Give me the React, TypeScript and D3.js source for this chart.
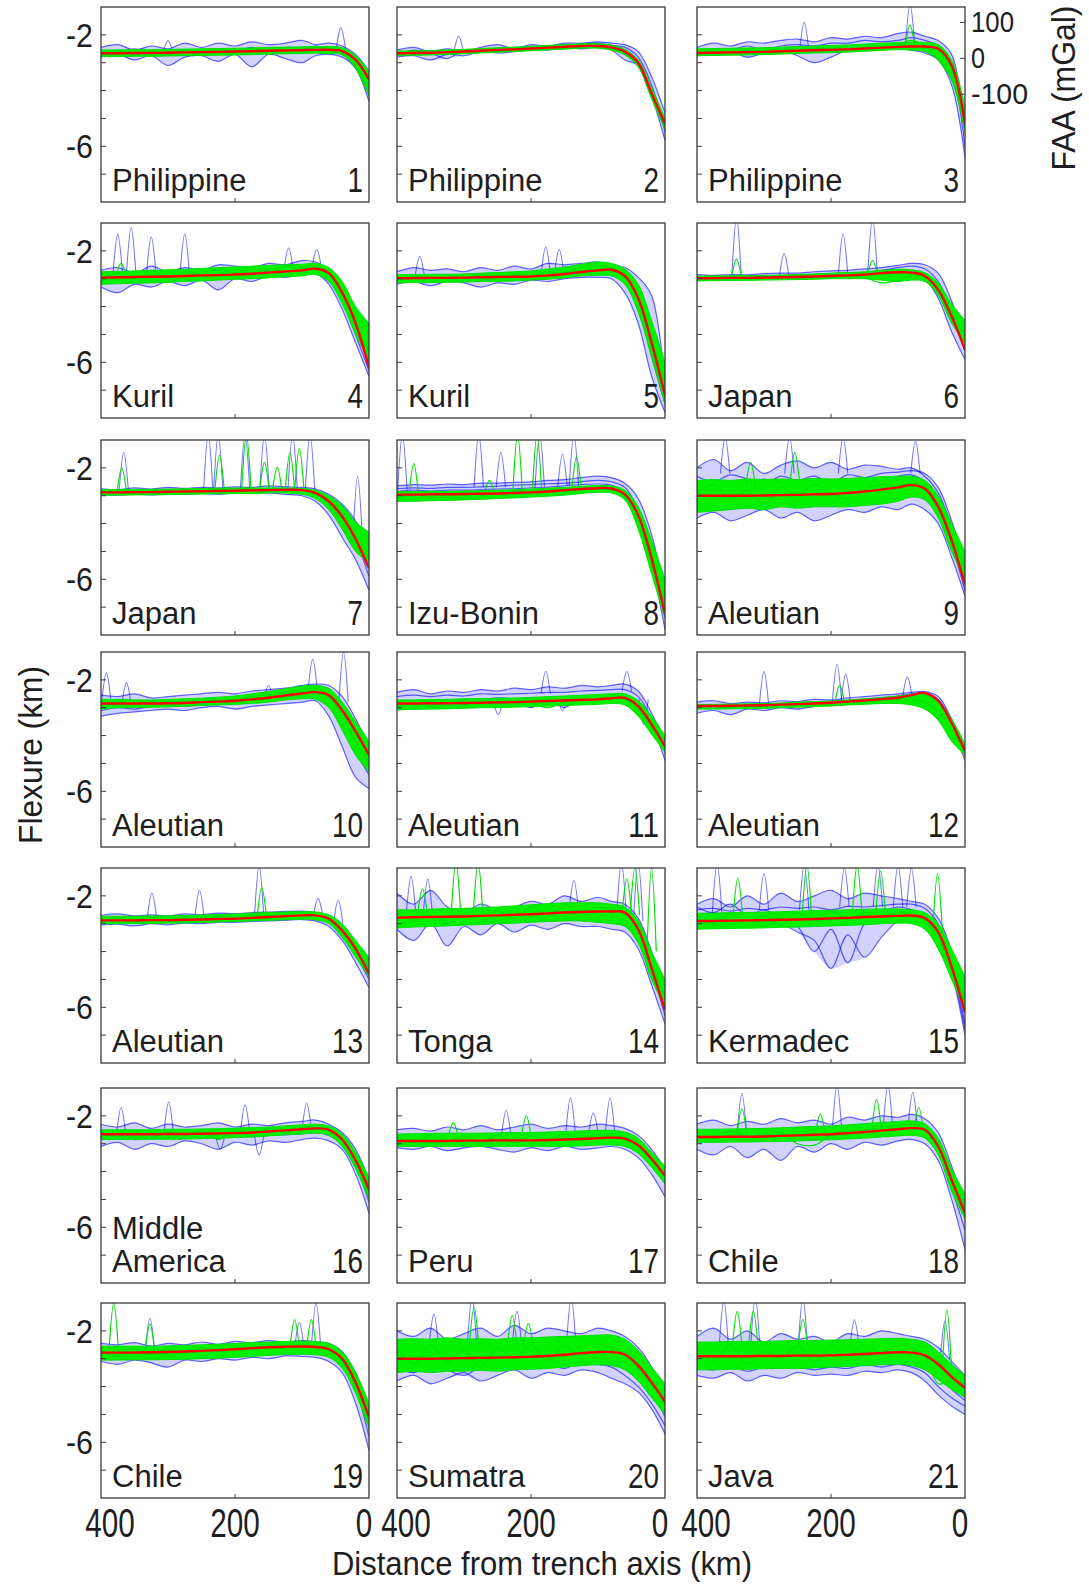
import React from "react";
import * as d3 from "d3";

// Distance from trench axis (km) at which every profile value is read
const DIST = [400, 375, 350, 325, 300, 275, 250, 225, 200, 175, 150, 125, 100, 80, 60, 40, 20, 0];

const PANEL_NAMES = [
  ["Philippine"], ["Philippine"], ["Philippine"], ["Kuril"], ["Kuril"], ["Japan"], ["Japan"],
  ["Izu-Bonin"], ["Aleutian"], ["Aleutian"], ["Aleutian"], ["Aleutian"], ["Aleutian"], ["Tonga"],
  ["Kermadec"], ["Middle", "America"], ["Peru"], ["Chile"], ["Chile"], ["Sumatra"], ["Java"],
];
const PANEL_NUMBERS = ["1","2","3","4","5","6","7","8","9","10","11","12","13","14","15","16","17","18","19","20","21"];

// Red: best-fit model flexure (km)
const RED = [
  [-2.66,-2.66,-2.65,-2.65,-2.64,-2.63,-2.62,-2.61,-2.6,-2.59,-2.57,-2.56,-2.55,-2.54,-2.54,-2.58,-2.9,-3.6],
  [-2.66,-2.65,-2.64,-2.62,-2.6,-2.57,-2.54,-2.52,-2.49,-2.46,-2.43,-2.4,-2.4,-2.45,-2.6,-3.0,-4.1,-5.2],
  [-2.65,-2.64,-2.63,-2.62,-2.61,-2.59,-2.57,-2.55,-2.54,-2.52,-2.49,-2.46,-2.43,-2.42,-2.42,-2.5,-3.1,-5.2],
  [-2.96,-2.95,-2.94,-2.93,-2.92,-2.9,-2.88,-2.87,-2.85,-2.82,-2.78,-2.74,-2.7,-2.64,-2.8,-3.5,-4.6,-6.2],
  [-2.98,-2.98,-2.97,-2.97,-2.96,-2.95,-2.94,-2.93,-2.92,-2.88,-2.83,-2.76,-2.7,-2.68,-2.9,-3.7,-5.3,-7.2],
  [-2.98,-2.98,-2.97,-2.97,-2.96,-2.95,-2.94,-2.92,-2.9,-2.88,-2.85,-2.8,-2.77,-2.78,-2.9,-3.4,-4.35,-5.55],
  [-2.88,-2.88,-2.87,-2.87,-2.86,-2.85,-2.84,-2.83,-2.82,-2.81,-2.8,-2.79,-2.8,-2.9,-3.2,-3.75,-4.55,-5.6],
  [-2.96,-2.96,-2.95,-2.95,-2.94,-2.93,-2.92,-2.9,-2.88,-2.85,-2.8,-2.76,-2.73,-2.74,-2.95,-3.7,-5.25,-7.25],
  [-3.0,-3.0,-3.0,-3.0,-2.99,-2.98,-2.97,-2.95,-2.94,-2.9,-2.85,-2.78,-2.7,-2.62,-2.75,-3.4,-4.6,-6.2],
  [-2.85,-2.85,-2.85,-2.85,-2.84,-2.83,-2.8,-2.78,-2.75,-2.7,-2.64,-2.56,-2.49,-2.44,-2.55,-3.1,-3.85,-4.7],
  [-2.85,-2.85,-2.84,-2.84,-2.83,-2.82,-2.81,-2.8,-2.78,-2.76,-2.74,-2.72,-2.7,-2.66,-2.65,-2.95,-3.6,-4.4],
  [-2.94,-2.94,-2.93,-2.92,-2.91,-2.89,-2.87,-2.85,-2.82,-2.78,-2.74,-2.69,-2.64,-2.55,-2.47,-2.75,-3.55,-4.55],
  [-2.88,-2.88,-2.88,-2.87,-2.87,-2.86,-2.85,-2.83,-2.82,-2.79,-2.76,-2.73,-2.7,-2.7,-2.82,-3.25,-3.9,-4.8],
  [-2.78,-2.77,-2.76,-2.75,-2.74,-2.72,-2.7,-2.68,-2.66,-2.63,-2.6,-2.58,-2.56,-2.56,-2.6,-3.2,-4.6,-6.1],
  [-2.9,-2.9,-2.89,-2.88,-2.87,-2.86,-2.85,-2.83,-2.81,-2.79,-2.76,-2.74,-2.72,-2.71,-2.8,-3.3,-4.55,-6.2],
  [-2.66,-2.66,-2.66,-2.66,-2.65,-2.65,-2.64,-2.63,-2.62,-2.6,-2.56,-2.52,-2.48,-2.45,-2.5,-2.85,-3.6,-4.65],
  [-2.9,-2.9,-2.9,-2.9,-2.89,-2.89,-2.88,-2.88,-2.88,-2.87,-2.85,-2.83,-2.8,-2.78,-2.82,-3.05,-3.55,-4.15],
  [-2.76,-2.76,-2.75,-2.75,-2.74,-2.72,-2.7,-2.68,-2.66,-2.62,-2.58,-2.53,-2.48,-2.44,-2.5,-3.1,-4.3,-5.5],
  [-2.78,-2.78,-2.78,-2.77,-2.76,-2.74,-2.72,-2.69,-2.66,-2.62,-2.59,-2.57,-2.56,-2.58,-2.66,-3.0,-3.85,-5.1],
  [-3.0,-3.0,-3.0,-2.99,-2.98,-2.97,-2.96,-2.95,-2.93,-2.9,-2.86,-2.8,-2.76,-2.76,-2.85,-3.25,-3.85,-4.55],
  [-2.91,-2.91,-2.91,-2.91,-2.9,-2.9,-2.89,-2.89,-2.88,-2.86,-2.83,-2.8,-2.77,-2.78,-2.88,-3.2,-3.65,-4.05],
];

// Green: upper and lower edge of the dense bundle of predicted profiles (km)
const GREEN_HI = [
  [-2.54,-2.54,-2.53,-2.53,-2.52,-2.51,-2.5,-2.49,-2.48,-2.47,-2.45,-2.44,-2.43,-2.42,-2.42,-2.46,-2.75,-3.3],
  [-2.58,-2.57,-2.56,-2.54,-2.52,-2.49,-2.46,-2.44,-2.41,-2.38,-2.35,-2.32,-2.32,-2.37,-2.52,-2.9,-3.9,-5.0],
  [-2.5,-2.49,-2.48,-2.47,-2.46,-2.44,-2.42,-2.4,-2.38,-2.36,-2.33,-2.3,-2.27,-2.26,-2.27,-2.35,-2.9,-4.6],
  [-2.75,-2.74,-2.72,-2.7,-2.68,-2.66,-2.63,-2.6,-2.58,-2.55,-2.52,-2.5,-2.48,-2.45,-2.6,-3.1,-4.0,-4.6],
  [-2.85,-2.85,-2.84,-2.84,-2.83,-2.8,-2.78,-2.75,-2.72,-2.65,-2.58,-2.48,-2.4,-2.45,-2.65,-3.2,-4.5,-6.0],
  [-2.9,-2.9,-2.89,-2.89,-2.88,-2.87,-2.85,-2.83,-2.8,-2.78,-2.75,-2.7,-2.66,-2.68,-2.78,-3.15,-3.9,-4.5],
  [-2.78,-2.78,-2.77,-2.77,-2.76,-2.75,-2.74,-2.73,-2.72,-2.72,-2.72,-2.72,-2.74,-2.8,-3.0,-3.35,-3.95,-4.3],
  [-2.85,-2.85,-2.84,-2.84,-2.83,-2.82,-2.8,-2.78,-2.76,-2.73,-2.7,-2.66,-2.63,-2.65,-2.8,-3.4,-4.6,-6.0],
  [-2.45,-2.42,-2.45,-2.4,-2.42,-2.4,-2.42,-2.38,-2.4,-2.38,-2.35,-2.32,-2.3,-2.3,-2.45,-3.0,-4.0,-5.0],
  [-2.7,-2.7,-2.72,-2.72,-2.7,-2.68,-2.66,-2.62,-2.58,-2.5,-2.42,-2.32,-2.22,-2.2,-2.3,-2.8,-3.5,-4.2],
  [-2.72,-2.72,-2.7,-2.7,-2.68,-2.67,-2.66,-2.65,-2.63,-2.6,-2.58,-2.55,-2.52,-2.5,-2.5,-2.75,-3.3,-4.0],
  [-2.88,-2.88,-2.87,-2.86,-2.85,-2.83,-2.8,-2.78,-2.76,-2.72,-2.68,-2.63,-2.58,-2.52,-2.5,-2.75,-3.4,-4.3],
  [-2.73,-2.73,-2.73,-2.72,-2.72,-2.7,-2.69,-2.67,-2.65,-2.62,-2.6,-2.58,-2.57,-2.58,-2.68,-3.0,-3.6,-4.2],
  [-2.5,-2.5,-2.48,-2.45,-2.45,-2.42,-2.4,-2.36,-2.32,-2.28,-2.25,-2.25,-2.25,-2.3,-2.4,-2.9,-4.0,-5.0],
  [-2.62,-2.62,-2.6,-2.6,-2.58,-2.57,-2.55,-2.53,-2.52,-2.5,-2.48,-2.47,-2.47,-2.5,-2.6,-3.0,-3.9,-4.9],
  [-2.5,-2.5,-2.5,-2.5,-2.48,-2.48,-2.47,-2.46,-2.44,-2.42,-2.4,-2.36,-2.32,-2.3,-2.36,-2.65,-3.3,-4.2],
  [-2.65,-2.64,-2.63,-2.62,-2.62,-2.62,-2.61,-2.6,-2.6,-2.58,-2.56,-2.54,-2.52,-2.52,-2.58,-2.8,-3.3,-3.8],
  [-2.48,-2.48,-2.47,-2.46,-2.45,-2.43,-2.4,-2.38,-2.36,-2.32,-2.28,-2.24,-2.2,-2.18,-2.28,-2.8,-3.9,-4.8],
  [-2.55,-2.55,-2.55,-2.55,-2.54,-2.52,-2.5,-2.48,-2.45,-2.42,-2.4,-2.38,-2.37,-2.38,-2.45,-2.75,-3.5,-4.6],
  [-2.3,-2.28,-2.3,-2.25,-2.3,-2.28,-2.3,-2.25,-2.25,-2.22,-2.2,-2.18,-2.15,-2.15,-2.3,-2.7,-3.3,-3.9],
  [-2.4,-2.4,-2.38,-2.38,-2.38,-2.36,-2.35,-2.35,-2.33,-2.32,-2.3,-2.28,-2.27,-2.3,-2.4,-2.75,-3.2,-3.6],
];
const GREEN_LO = [
  [-2.78,-2.78,-2.77,-2.77,-2.76,-2.75,-2.74,-2.73,-2.72,-2.71,-2.69,-2.68,-2.67,-2.66,-2.67,-2.72,-3.2,-4.2],
  [-2.74,-2.73,-2.72,-2.7,-2.68,-2.65,-2.62,-2.6,-2.57,-2.54,-2.51,-2.48,-2.48,-2.55,-2.72,-3.15,-4.3,-5.4],
  [-2.75,-2.74,-2.73,-2.72,-2.71,-2.69,-2.67,-2.65,-2.64,-2.62,-2.59,-2.56,-2.53,-2.55,-2.6,-2.9,-3.6,-5.5],
  [-3.2,-3.18,-3.16,-3.15,-3.13,-3.1,-3.08,-3.05,-3.02,-3.0,-2.97,-2.93,-2.9,-2.85,-3.1,-3.9,-5.0,-5.9],
  [-3.15,-3.14,-3.14,-3.13,-3.12,-3.1,-3.1,-3.08,-3.05,-3.02,-2.97,-2.9,-2.88,-2.9,-3.2,-4.2,-5.8,-7.5],
  [-3.08,-3.07,-3.06,-3.06,-3.05,-3.04,-3.03,-3.02,-3.0,-3.0,-3.0,-3.05,-3.1,-3.05,-3.1,-3.6,-4.6,-5.3],
  [-2.98,-2.98,-2.97,-2.97,-2.96,-2.95,-2.94,-2.93,-2.92,-2.92,-2.9,-2.9,-2.95,-3.1,-3.5,-4.2,-5.0,-5.4],
  [-3.2,-3.2,-3.18,-3.17,-3.15,-3.13,-3.1,-3.08,-3.05,-3.02,-2.98,-2.92,-2.88,-2.9,-3.15,-4.2,-5.8,-7.4],
  [-3.6,-3.55,-3.5,-3.45,-3.5,-3.4,-3.45,-3.4,-3.4,-3.4,-3.35,-3.3,-3.2,-3.05,-3.15,-3.8,-5.0,-6.0],
  [-3.05,-3.0,-3.0,-2.98,-2.97,-2.95,-2.92,-2.9,-2.88,-2.85,-2.8,-2.72,-2.68,-2.7,-3.0,-3.8,-4.7,-5.3],
  [-3.08,-3.06,-3.05,-3.04,-3.02,-3.0,-3.0,-2.98,-2.96,-2.94,-2.92,-2.9,-2.88,-2.85,-2.9,-3.3,-3.95,-4.6],
  [-3.05,-3.05,-3.04,-3.03,-3.02,-3.0,-2.98,-2.96,-2.94,-2.9,-2.88,-2.85,-2.85,-2.9,-3.05,-3.45,-4.2,-4.7],
  [-3.0,-3.0,-3.0,-2.99,-2.98,-2.97,-2.96,-2.94,-2.92,-2.9,-2.88,-2.86,-2.84,-2.86,-3.0,-3.5,-4.2,-4.9],
  [-3.15,-3.12,-3.1,-3.08,-3.05,-3.03,-3.0,-2.98,-2.95,-2.92,-2.9,-2.9,-2.95,-3.0,-3.1,-3.7,-5.0,-6.0],
  [-3.2,-3.18,-3.17,-3.16,-3.15,-3.13,-3.12,-3.1,-3.08,-3.06,-3.04,-3.0,-2.98,-3.0,-3.2,-3.9,-5.0,-6.1],
  [-2.85,-2.85,-2.85,-2.84,-2.84,-2.83,-2.82,-2.8,-2.78,-2.76,-2.72,-2.68,-2.65,-2.62,-2.7,-3.1,-3.9,-5.0],
  [-3.1,-3.1,-3.1,-3.1,-3.1,-3.1,-3.1,-3.1,-3.1,-3.1,-3.1,-3.08,-3.05,-3.05,-3.1,-3.35,-3.85,-4.45],
  [-2.95,-2.95,-2.94,-2.94,-2.93,-2.92,-2.9,-2.88,-2.86,-2.83,-2.8,-2.76,-2.72,-2.7,-2.8,-3.4,-4.7,-5.7],
  [-3.05,-3.05,-3.04,-3.04,-3.03,-3.02,-3.0,-2.98,-2.95,-2.92,-2.88,-2.85,-2.84,-2.86,-2.95,-3.35,-4.25,-5.5],
  [-3.5,-3.45,-3.5,-3.45,-3.45,-3.42,-3.45,-3.4,-3.38,-3.35,-3.3,-3.25,-3.22,-3.25,-3.4,-3.8,-4.4,-5.0],
  [-3.4,-3.4,-3.38,-3.38,-3.36,-3.35,-3.35,-3.33,-3.3,-3.28,-3.25,-3.22,-3.2,-3.25,-3.4,-3.75,-4.1,-4.4],
];
// Green: one stray predicted profile per panel (km)
const GREEN_LINE = [
  [-2.7,-2.55,-2.72,-2.58,-2.7,-2.55,-2.65,-2.5,-2.62,-2.48,-2.6,-2.45,-2.5,-2.45,-2.5,-2.62,-3.1,-3.95],
  [-2.72,-2.6,-2.7,-2.58,-2.66,-2.55,-2.6,-2.5,-2.55,-2.45,-2.5,-2.4,-2.45,-2.5,-2.7,-3.1,-4.2,-5.3],
  [-2.7,-2.58,-2.66,-2.55,-2.6,-2.5,-2.55,-2.45,-2.5,-2.4,-2.45,-2.3,-2.35,-2.2,-2.4,-2.9,-3.6,-5.4],
  [-3.1,-2.8,-3.0,-2.7,-2.95,-2.75,-2.85,-2.65,-2.8,-2.6,-2.7,-2.55,-2.6,-2.5,-2.8,-3.5,-4.7,-5.6],
  [-3.05,-2.9,-3.0,-2.88,-2.98,-2.86,-2.95,-2.82,-2.88,-2.75,-2.78,-2.6,-2.5,-2.6,-2.9,-3.7,-5.2,-6.8],
  [-2.95,-3.0,-2.92,-2.98,-2.9,-2.95,-2.88,-2.92,-2.85,-2.9,-2.95,-3.15,-3.05,-2.9,-2.95,-3.4,-4.3,-5.0],
  [-2.9,-2.82,-2.88,-2.8,-2.86,-2.78,-2.84,-2.76,-2.8,-2.75,-2.78,-2.74,-2.8,-2.95,-3.3,-4.0,-4.8,-5.2],
  [-3.1,-2.95,-3.05,-2.92,-3.0,-2.88,-2.95,-2.85,-2.9,-2.8,-2.85,-2.75,-2.72,-2.8,-3.0,-3.9,-5.4,-7.0],
  [-2.9,-2.6,-3.1,-2.8,-3.3,-2.7,-3.0,-2.6,-2.9,-3.1,-2.8,-2.6,-2.7,-2.55,-2.7,-3.3,-4.5,-5.6],
  [-2.95,-2.8,-2.9,-2.78,-2.85,-2.75,-2.8,-2.7,-2.72,-2.6,-2.55,-2.45,-2.35,-2.3,-2.6,-3.3,-4.2,-5.0],
  [-2.95,-2.85,-2.92,-2.82,-2.9,-2.8,-2.86,-2.76,-2.82,-3.0,-2.78,-2.7,-2.75,-2.65,-2.7,-3.1,-3.7,-4.3],
  [-3.0,-2.92,-2.98,-2.9,-2.95,-2.86,-2.9,-2.82,-2.85,-2.78,-2.8,-2.72,-2.75,-2.7,-2.8,-3.1,-3.8,-4.5],
  [-2.9,-2.8,-2.88,-2.78,-2.85,-2.76,-2.82,-2.72,-2.76,-2.68,-2.72,-2.65,-2.68,-2.66,-2.85,-3.3,-3.95,-4.6],
  [-2.6,-2.9,-2.5,-3.0,-2.6,-2.95,-2.55,-2.8,-2.4,-2.7,-2.35,-2.6,-2.4,-2.5,-2.6,-3.3,-4.5,-5.6],
  [-2.7,-3.0,-2.65,-2.95,-2.7,-3.05,-2.6,-2.9,-2.55,-2.85,-2.6,-2.7,-2.6,-2.65,-2.9,-3.5,-4.6,-5.8],
  [-2.6,-2.75,-2.55,-2.8,-2.6,-2.7,-2.55,-2.85,-2.5,-2.7,-2.45,-2.6,-2.4,-2.4,-2.5,-2.9,-3.7,-4.6],
  [-2.75,-2.95,-2.7,-2.9,-2.75,-3.0,-2.7,-2.95,-2.72,-2.85,-2.65,-2.8,-2.7,-2.7,-2.8,-3.1,-3.6,-4.1],
  [-2.6,-2.8,-2.55,-2.75,-2.7,-2.6,-3.0,-3.05,-2.7,-2.55,-2.5,-2.4,-2.35,-2.3,-2.45,-3.1,-4.3,-5.3],
  [-2.7,-2.9,-2.65,-2.85,-2.7,-2.8,-2.6,-2.75,-2.58,-2.7,-2.55,-2.65,-2.5,-2.55,-2.7,-3.1,-4.0,-5.2],
  [-2.6,-3.2,-2.5,-3.1,-2.7,-3.3,-2.6,-3.0,-2.5,-3.1,-2.55,-2.9,-2.5,-2.6,-2.8,-3.3,-3.9,-4.5],
  [-2.6,-3.1,-2.5,-3.2,-2.7,-3.0,-2.55,-3.1,-2.6,-2.9,-2.5,-2.8,-2.5,-2.6,-2.9,-3.9,-3.8,-3.9],
];

// Blue: observed flexure profiles (km)
const BLUE = [
  [[-2.45,-2.35,-2.55,-2.4,-2.5,-2.3,-2.45,-2.3,-2.4,-2.25,-2.35,-2.3,-2.2,-2.35,-2.3,-2.4,-2.7,-3.3],
   [-2.8,-2.7,-2.9,-2.75,-3.1,-2.8,-2.75,-2.95,-2.7,-3.15,-2.7,-2.85,-3.0,-2.75,-2.7,-2.8,-3.2,-4.4],
   [-2.6,-2.75,-2.5,-2.7,-2.6,-2.55,-2.7,-2.5,-2.6,-2.45,-2.65,-2.5,-2.6,-2.4,-2.55,-2.65,-3.0,-4.0]],
  [[-2.55,-2.45,-2.6,-2.5,-2.6,-2.45,-2.35,-2.5,-2.35,-2.4,-2.3,-2.3,-2.25,-2.3,-2.35,-2.6,-3.5,-4.8],
   [-2.8,-2.75,-2.9,-2.7,-2.75,-2.6,-2.65,-2.6,-2.5,-2.55,-2.45,-2.5,-2.45,-2.55,-2.9,-3.1,-4.2,-5.8],
   [-2.7,-2.55,-2.65,-2.85,-2.55,-2.6,-2.5,-2.45,-2.45,-2.4,-2.38,-2.32,-2.3,-2.38,-2.45,-2.8,-3.8,-5.5]],
  [[-2.45,-2.3,-2.4,-2.25,-2.3,-2.2,-2.15,-2.25,-2.1,-2.15,-2.05,-2.1,-1.95,-1.9,-2.05,-2.2,-2.7,-5.4],
   [-2.75,-2.7,-2.6,-2.8,-2.65,-2.55,-2.75,-3.0,-2.8,-2.55,-2.55,-2.35,-2.4,-2.55,-2.65,-2.9,-3.8,-6.4],
   [-2.6,-2.5,-2.55,-2.4,-2.55,-2.4,-2.35,-2.4,-2.3,-2.3,-2.2,-2.25,-2.2,-2.1,-2.2,-2.4,-3.2,-6.0]],
  [[-2.7,-2.6,-2.8,-2.55,-2.75,-2.6,-2.7,-2.5,-2.55,-2.6,-2.45,-2.5,-2.35,-2.4,-2.7,-3.5,-4.8,-6.0],
   [-3.3,-3.5,-3.2,-3.3,-3.1,-3.25,-3.05,-3.4,-3.0,-3.1,-2.9,-2.95,-2.85,-2.8,-3.2,-4.1,-5.3,-6.5],
   [-3.0,-2.9,-3.1,-2.85,-2.95,-3.0,-2.8,-2.9,-2.75,-2.8,-2.65,-2.7,-2.6,-2.55,-2.9,-3.7,-5.0,-6.3]],
  [[-2.75,-2.6,-2.7,-2.65,-2.75,-2.6,-2.7,-2.55,-2.65,-2.45,-2.5,-2.45,-2.4,-2.5,-2.6,-2.95,-3.6,-6.8],
   [-3.2,-3.1,-3.25,-3.1,-3.15,-3.3,-3.15,-3.2,-3.05,-3.1,-3.0,-2.95,-2.95,-3.0,-3.5,-4.6,-6.5,-7.8],
   [-3.0,-2.9,-3.0,-2.85,-2.95,-3.05,-2.9,-2.95,-2.85,-2.85,-2.8,-2.7,-2.65,-2.7,-3.0,-4.0,-5.8,-7.5]],
  [[-2.85,-2.88,-2.85,-2.86,-2.82,-2.8,-2.8,-2.75,-2.72,-2.7,-2.65,-2.6,-2.52,-2.45,-2.5,-2.8,-3.8,-5.2],
   [-3.05,-3.0,-3.05,-3.0,-3.02,-2.98,-2.98,-2.95,-2.95,-2.95,-2.9,-2.85,-2.8,-2.82,-3.0,-3.7,-4.9,-5.9],
   [-2.95,-2.93,-2.95,-2.92,-2.9,-2.9,-2.88,-2.85,-2.82,-2.8,-2.78,-2.7,-2.6,-2.55,-2.65,-3.1,-4.2,-5.6]],
  [[-2.75,-2.78,-2.72,-2.76,-2.7,-2.74,-2.7,-2.72,-2.68,-2.7,-2.65,-2.68,-2.7,-2.75,-2.95,-3.3,-3.9,-4.8],
   [-2.95,-2.98,-2.94,-2.97,-2.93,-2.95,-2.92,-2.95,-2.9,-2.92,-2.9,-2.95,-3.0,-3.2,-3.7,-4.5,-5.3,-6.4],
   [-2.85,-2.87,-2.84,-2.86,-2.83,-2.85,-2.82,-2.83,-2.8,-2.8,-2.78,-2.8,-2.85,-3.0,-3.3,-3.8,-4.6,-5.9]],
  [[-2.65,-2.6,-2.62,-2.58,-2.6,-2.55,-2.55,-2.52,-2.5,-2.45,-2.42,-2.35,-2.3,-2.35,-2.55,-3.1,-4.4,-6.6],
   [-2.85,-2.8,-2.83,-2.8,-2.8,-2.78,-2.76,-2.75,-2.72,-2.7,-2.65,-2.6,-2.58,-2.62,-2.9,-3.8,-5.5,-7.8],
   [-2.75,-2.72,-2.74,-2.7,-2.7,-2.68,-2.66,-2.62,-2.6,-2.57,-2.55,-2.5,-2.45,-2.5,-2.7,-3.5,-5.0,-7.3]],
  [[-2.0,-1.7,-2.1,-1.8,-2.2,-1.9,-1.75,-2.0,-1.8,-2.05,-1.9,-1.95,-2.05,-2.0,-2.3,-2.9,-4.1,-5.8],
   [-3.8,-3.6,-3.9,-3.7,-3.5,-3.8,-3.6,-3.9,-3.7,-3.5,-3.6,-3.4,-3.5,-3.3,-3.5,-4.0,-5.2,-6.6],
   [-2.6,-2.8,-2.5,-2.7,-2.4,-2.65,-2.5,-2.7,-2.45,-2.6,-2.4,-2.5,-2.3,-2.25,-2.5,-3.2,-4.4,-6.1],
   [-3.2,-3.0,-3.3,-3.1,-3.2,-2.95,-3.25,-3.05,-3.2,-3.0,-3.15,-2.9,-2.95,-2.8,-2.95,-3.6,-4.8,-6.4],
   [-2.3,-2.5,-2.25,-2.4,-2.6,-2.3,-2.45,-2.3,-2.55,-2.25,-2.35,-2.2,-2.15,-2.1,-2.2,-2.7,-3.9,-5.5]],
  [[-2.55,-2.6,-2.5,-2.65,-2.6,-2.55,-2.5,-2.45,-2.5,-2.4,-2.35,-2.3,-2.2,-2.15,-2.2,-2.6,-3.4,-4.4],
   [-3.3,-3.2,-3.15,-3.1,-3.05,-3.1,-3.0,-2.95,-3.05,-2.95,-2.9,-2.85,-2.8,-2.75,-3.3,-4.4,-5.5,-5.9],
   [-3.1,-3.0,-3.05,-2.95,-2.9,-2.95,-2.85,-2.8,-2.82,-2.75,-2.7,-2.6,-2.55,-2.5,-2.8,-3.6,-4.6,-5.4]],
  [[-2.45,-2.35,-2.5,-2.4,-2.45,-2.35,-2.4,-2.3,-2.35,-2.25,-2.3,-2.2,-2.25,-2.2,-2.15,-2.4,-3.2,-4.2],
   [-2.75,-2.8,-2.72,-2.75,-2.7,-2.72,-2.65,-2.7,-3.0,-2.65,-3.0,-2.6,-2.6,-2.55,-2.6,-2.9,-3.6,-4.9],
   [-2.6,-2.55,-2.6,-2.55,-2.58,-2.5,-2.52,-2.5,-2.48,-2.45,-2.45,-2.4,-2.38,-2.35,-2.35,-2.6,-3.4,-4.6]],
  [[-2.8,-2.75,-2.85,-2.8,-2.82,-2.75,-2.78,-2.7,-2.72,-2.65,-2.6,-2.55,-2.5,-2.45,-2.42,-2.6,-3.4,-4.5],
   [-3.2,-3.1,-3.25,-3.05,-3.1,-3.0,-3.05,-2.95,-2.9,-2.85,-2.8,-2.78,-2.7,-2.62,-2.6,-2.9,-3.7,-4.9],
   [-3.0,-2.95,-3.0,-2.9,-2.95,-2.88,-2.9,-2.85,-2.8,-2.75,-2.7,-2.65,-2.58,-2.5,-2.5,-2.7,-3.5,-4.7]],
  [[-2.7,-2.65,-2.72,-2.68,-2.72,-2.65,-2.68,-2.62,-2.64,-2.6,-2.58,-2.56,-2.55,-2.6,-2.75,-3.1,-3.8,-4.5],
   [-3.05,-3.02,-3.08,-3.0,-3.04,-2.98,-3.0,-2.95,-2.95,-2.92,-2.9,-2.88,-2.85,-2.9,-3.1,-3.6,-4.4,-5.3],
   [-2.9,-2.85,-2.92,-2.88,-2.9,-2.85,-2.86,-2.8,-2.8,-2.78,-2.75,-2.72,-2.7,-2.72,-2.9,-3.35,-4.1,-5.0]],
  [[-1.9,-2.3,-1.8,-2.4,-2.6,-2.3,-2.5,-2.4,-2.2,-2.3,-2.0,-2.2,-2.05,-2.2,-2.3,-2.8,-4.0,-5.6],
   [-3.2,-3.6,-3.0,-3.8,-3.1,-3.4,-3.0,-3.3,-3.05,-3.2,-3.0,-3.1,-3.1,-3.2,-3.3,-3.9,-5.2,-6.6],
   [-2.6,-2.9,-2.5,-3.0,-2.7,-2.9,-2.6,-2.7,-2.5,-2.65,-2.45,-2.55,-2.5,-2.55,-2.7,-3.4,-4.7,-6.3]],
  [[-2.3,-2.1,-2.4,-2.0,-2.3,-1.9,-2.2,-2.0,-1.8,-2.1,-1.9,-2.0,-2.1,-2.2,-2.3,-2.8,-4.0,-6.0],
   [-2.7,-2.6,-2.75,-2.8,-2.9,-3.0,-3.3,-3.6,-4.6,-3.4,-4.2,-3.5,-2.9,-2.8,-3.0,-3.6,-4.8,-7.0],
   [-2.5,-2.45,-2.55,-2.45,-2.5,-2.4,-2.45,-2.4,-2.5,-2.38,-2.4,-2.35,-2.3,-2.3,-2.45,-3.0,-4.4,-6.6],
   [-2.4,-2.6,-2.3,-2.7,-2.5,-2.8,-3.1,-4.0,-3.2,-4.4,-3.0,-2.6,-2.4,-2.5,-2.7,-3.3,-4.6,-6.8]],
  [[-2.3,-2.4,-2.25,-2.45,-2.3,-2.4,-2.35,-2.25,-2.4,-2.3,-2.35,-2.25,-2.2,-2.15,-2.3,-2.6,-3.2,-4.3],
   [-3.1,-2.95,-3.2,-3.0,-3.1,-2.9,-3.0,-3.2,-2.95,-3.05,-2.9,-2.95,-2.85,-2.8,-2.9,-3.2,-4.1,-5.5],
   [-2.8,-2.75,-2.85,-2.8,-2.78,-2.82,-2.75,-2.8,-2.72,-2.75,-2.7,-2.68,-2.65,-2.6,-2.7,-3.0,-3.8,-5.1]],
  [[-2.5,-2.45,-2.55,-2.4,-2.5,-2.35,-2.5,-2.4,-2.3,-2.45,-2.35,-2.4,-2.3,-2.35,-2.45,-2.7,-3.2,-3.9],
   [-3.15,-3.2,-3.1,-3.25,-3.15,-3.1,-3.2,-3.3,-3.15,-3.25,-3.1,-3.2,-3.15,-3.1,-3.2,-3.5,-4.1,-4.9],
   [-2.85,-2.8,-2.9,-2.8,-2.85,-2.75,-2.82,-2.85,-2.75,-2.8,-2.7,-2.75,-2.68,-2.65,-2.75,-3.0,-3.6,-4.4]],
  [[-2.3,-2.15,-2.35,-2.2,-2.3,-2.1,-2.25,-2.15,-2.3,-2.05,-2.15,-2.0,-2.05,-1.95,-2.1,-2.6,-3.8,-5.2],
   [-3.2,-3.4,-3.1,-3.5,-3.2,-3.6,-3.1,-3.3,-3.0,-3.2,-2.95,-3.05,-2.9,-2.85,-3.0,-3.6,-5.0,-6.8],
   [-2.8,-2.7,-2.9,-2.75,-2.8,-2.7,-2.85,-2.6,-2.7,-2.55,-2.6,-2.5,-2.45,-2.4,-2.6,-3.3,-4.6,-6.1]],
  [[-2.45,-2.5,-2.42,-2.55,-2.45,-2.5,-2.4,-2.48,-2.38,-2.42,-2.35,-2.4,-2.35,-2.4,-2.45,-2.75,-3.5,-4.8],
   [-3.1,-3.2,-3.05,-3.15,-3.3,-3.05,-3.1,-3.0,-3.05,-2.95,-3.0,-2.9,-2.92,-2.95,-3.1,-3.5,-4.6,-6.3],
   [-2.85,-2.8,-2.9,-2.82,-2.9,-2.8,-2.85,-2.75,-2.75,-2.7,-2.72,-2.65,-2.65,-2.68,-2.8,-3.2,-4.1,-5.8]],
  [[-2.0,-2.2,-1.9,-2.3,-2.1,-1.9,-2.2,-1.8,-2.1,-1.9,-2.0,-2.1,-1.9,-2.0,-2.2,-2.6,-3.3,-4.4],
   [-3.8,-3.6,-3.9,-3.7,-3.5,-3.8,-3.6,-3.4,-3.7,-3.5,-3.6,-3.4,-3.5,-3.7,-3.9,-4.2,-4.8,-5.7],
   [-3.3,-3.5,-3.2,-3.4,-3.6,-3.3,-3.4,-3.2,-3.3,-3.2,-3.35,-3.1,-3.2,-3.3,-3.6,-4.0,-4.6,-5.4],
   [-2.6,-2.4,-2.7,-2.5,-2.6,-2.4,-2.55,-2.6,-2.4,-2.5,-2.4,-2.45,-2.35,-2.4,-2.6,-3.0,-3.7,-4.8],
   [-3.0,-3.2,-2.9,-3.1,-2.9,-3.1,-3.0,-3.1,-2.9,-3.0,-2.85,-2.95,-2.8,-2.85,-3.0,-3.4,-4.1,-5.1]],
  [[-2.2,-1.9,-2.3,-2.0,-2.4,-2.1,-2.3,-2.2,-2.4,-2.1,-2.2,-2.0,-2.1,-2.2,-2.3,-2.6,-3.1,-3.6],
   [-3.6,-3.7,-3.5,-3.8,-3.6,-3.7,-3.5,-3.6,-3.55,-3.6,-3.45,-3.5,-3.4,-3.5,-3.8,-4.3,-4.7,-5.0],
   [-3.3,-3.4,-3.25,-3.45,-3.3,-3.35,-3.3,-3.4,-3.3,-3.35,-3.2,-3.3,-3.2,-3.3,-3.5,-4.0,-4.4,-4.7],
   [-2.8,-2.6,-2.9,-2.7,-2.8,-2.6,-2.85,-2.7,-2.75,-2.6,-2.7,-2.55,-2.6,-2.55,-2.7,-3.1,-3.6,-4.1],
   [-3.1,-3.2,-3.0,-3.3,-3.1,-3.2,-3.05,-3.15,-3.0,-3.1,-3.0,-3.05,-2.95,-3.0,-3.2,-3.6,-4.1,-4.5]],
];

// Narrow peaks in single profiles: [distance km, flank value, peak value]
const BLUE_SPIKES = [
  [[42,-2.5,-1.75],[300,-2.6,-2.2]],
  [[308,-2.6,-2.05]],
  [[82,-2.4,-0.9],[240,-2.6,-1.55]],
  [[375,-2.8,-1.4],[355,-2.8,-1.15],[325,-2.8,-1.5],[275,-2.8,-1.4],[120,-2.7,-1.9],[78,-2.6,-1.95]],
  [[366,-2.9,-2.2],[178,-2.85,-1.85],[158,-2.8,-1.95]],
  [[341,-2.9,-0.8],[270,-2.9,-2.1],[182,-2.85,-1.4],[138,-2.8,-0.8]],
  [[366,-2.85,-1.45],[240,-2.85,-0.8],[225,-2.85,-0.8],[185,-2.8,-0.8],[156,-2.8,-0.8],[114,-2.8,-0.8],[88,-2.8,-0.8],[17,-4.5,-2.3]],
  [[392,-2.8,-0.8],[278,-2.7,-0.8],[245,-2.7,-1.45],[187,-2.7,-0.8],[153,-2.65,-1.5],[136,-2.65,-0.8]],
  [[358,-2.2,-0.9],[262,-2.2,-0.9],[182,-2.2,-0.9],[74,-2.2,-1.05]],
  [[392,-2.8,-1.75],[362,-2.9,-2.1],[150,-2.7,-2.2],[84,-2.4,-1.25],[38,-2.8,-1.0]],
  [[178,-2.5,-1.7],[249,-2.8,-3.25],[153,-2.7,-3.1],[57,-2.4,-1.7],[32,-2.7,-3.6]],
  [[300,-2.9,-1.7],[191,-2.8,-1.45],[178,-2.8,-1.8],[86,-2.6,-1.9]],
  [[324,-2.8,-1.9],[253,-2.8,-1.8],[164,-2.75,-0.9],[76,-2.7,-2.1],[46,-3.0,-2.15]],
  [[379,-2.6,-1.3],[354,-2.7,-1.4],[136,-2.5,-1.45],[65,-2.6,-0.8],[40,-2.9,-0.8]],
  [[370,-2.6,-0.8],[300,-2.5,-1.2],[240,-2.5,-0.9],[180,-2.4,-1.0],[130,-2.4,-0.9],[100,-2.4,-0.9],[80,-2.4,-1.0]],
  [[370,-2.7,-1.7],[299,-2.6,-1.5],[185,-2.6,-1.6],[93,-2.5,-1.55],[164,-2.7,-3.4],[222,-2.7,-3.2]],
  [[237,-2.7,-1.8],[141,-2.6,-1.35],[107,-2.6,-1.9],[82,-2.6,-1.35]],
  [[333,-2.6,-1.2],[191,-2.5,-0.9],[115,-2.4,-0.9],[78,-2.4,-1.15]],
  [[327,-2.7,-1.55],[104,-2.6,-1.7],[79,-2.6,-1.0]],
  [[288,-2.5,-0.8],[345,-2.5,-1.4],[221,-2.5,-1.3],[140,-2.5,-0.8]],
  [[360,-2.6,-0.9],[313,-2.6,-0.8],[242,-2.6,-0.8],[165,-2.6,-1.6],[30,-3.0,-1.65]],
];
const GREEN_SPIKES = [
  [],
  [],
  [[82,-2.4,-1.65]],
  [[370,-2.8,-2.45]],
  [],
  [[341,-2.9,-2.3],[138,-2.8,-2.35]],
  [[369,-2.85,-2.0],[223,-2.8,-1.55],[183,-2.8,-0.8],[156,-2.8,-1.8],[137,-2.8,-1.98],[118,-2.8,-1.45],[104,-2.8,-1.3]],
  [[375,-2.95,-1.85],[220,-2.85,-0.8],[191,-2.85,-0.8],[132,-2.8,-1.6],[262,-2.85,-2.45]],
  [[254,-2.5,-1.45],[320,-2.6,-1.8]],
  [],
  [],
  [[187,-2.8,-2.2]],
  [[160,-2.75,-1.7]],
  [[362,-2.6,-1.75],[312,-2.6,-0.8],[279,-2.6,-0.8],[57,-2.6,-1.4],[45,-2.7,-1.0],[20,-4.0,-1.0]],
  [[339,-2.7,-1.35],[236,-2.7,-0.9],[161,-2.6,-0.9],[126,-2.6,-1.1],[41,-3.2,-1.2]],
  [],
  [[316,-2.7,-2.24],[207,-2.7,-2.0]],
  [[333,-2.6,-1.75],[216,-2.6,-1.94],[132,-2.5,-1.4],[69,-2.5,-1.7]],
  [[381,-2.7,-1.0],[327,-2.7,-1.75],[111,-2.6,-1.6],[86,-2.6,-1.6]],
  [[285,-2.5,-1.15],[228,-2.5,-1.45],[204,-2.5,-1.74]],
  [[340,-2.5,-1.3],[316,-2.5,-1.3],[242,-2.5,-1.6],[27,-3.4,-1.25]],
];

const Y_TICKS = [-2, -3, -4, -5, -6, -7];
const Y_LABELS = [-2, -6];
const X_LABELS = [400, 200, 0];
const FAA_TICKS = [100, 0, -100];

// layout
const ROW_TOP = [7, 223, 440, 652, 868, 1088, 1303];
const COL_LEFT = [101, 397, 697];
const PW = 268;
const PH = 195;
const FONT = "'Liberation Sans', Arial, Helvetica, sans-serif";
const TXT = "#1e1e1e";
const X_LABEL_SHIFT: Record<number, number> = { 400: 9, 200: 0, 0: -5 };

function Panel({ i }: { i: number }) {
  const r = Math.floor(i / 3);
  const c = i % 3;
  const L = COL_LEFT[c];
  const T = ROW_TOP[r];
  const xs = d3.scaleLinear().domain([400, 0]).range([L, L + PW]);
  const ys = d3.scaleLinear().domain([-8, -1]).range([T + PH, T]);
  const curve = d3.curveCatmullRom.alpha(0.5);
  const line = d3
    .line<number>()
    .defined((_, j) => j < DIST.length)
    .x((_, j) => xs(DIST[j]))
    .y((d) => ys(d))
    .curve(curve);
  const idx = DIST.map((_, j) => j);
  const area = d3
    .area<number>()
    .x((j) => xs(DIST[j]))
    .y0((j) => ys(GREEN_LO[i][j]))
    .y1((j) => ys(GREEN_HI[i][j]))
    .curve(curve);
  const blueLo = idx.map((j) => d3.min(BLUE[i], (b) => b[j]) as number);
  const blueHi = idx.map((j) => d3.max(BLUE[i], (b) => b[j]) as number);
  const blueArea = d3
    .area<number>()
    .x((j) => xs(DIST[j]))
    .y0((j) => ys(blueLo[j]))
    .y1((j) => ys(blueHi[j]))
    .curve(curve);
  const spikeLine = d3
    .line<number[]>()
    .x((d) => xs(d[0]))
    .y((d) => ys(d[1]))
    .curve(curve);
  const spikePath = (s: number[]) =>
    spikeLine([
      [Math.min(400, s[0] + 7), s[1]],
      [s[0], s[2]],
      [Math.max(0, s[0] - 7), s[1]],
    ]);
  const clipId = `clip-${i}`;
  const names = PANEL_NAMES[i];
  const num = PANEL_NUMBERS[i];
  const faa = d3.scaleLinear().domain([-400, 143]).range([T + PH, T]);

  return (
    <g>
      <defs>
        <clipPath id={clipId}>
          <rect x={L} y={T} width={PW} height={PH} />
        </clipPath>
      </defs>
      <g clipPath={`url(#${clipId})`}>
        <path d={blueArea(idx) || ""} fill="#2020ff" fillOpacity={0.2} stroke="none" />
        {BLUE[i].map((b, k) => (
          <path key={"b" + k} d={line(b) || ""} fill="none" stroke="#0000ff" strokeOpacity={0.6} strokeWidth={1.2} />
        ))}
        {BLUE_SPIKES[i].map((s, k) => (
          <path key={"bs" + k} d={spikePath(s) || ""} fill="none" stroke="#0000ff" strokeOpacity={0.55} strokeWidth={1.1} />
        ))}
        <path d={area(idx) || ""} fill="#00f000" stroke="#00e000" strokeWidth={1} />
        <path d={line(GREEN_LINE[i]) || ""} fill="none" stroke="#00e000" strokeWidth={1.2} />
        {GREEN_SPIKES[i].map((s, k) => (
          <path key={"gs" + k} d={spikePath(s) || ""} fill="none" stroke="#00e000" strokeWidth={1.2} />
        ))}
        <path d={line(RED[i]) || ""} fill="none" stroke="#ff0000" strokeWidth={2.4} />
      </g>
      <rect x={L} y={T} width={PW} height={PH} fill="none" stroke="#3a3a3a" strokeWidth={1.3} />
      {Y_TICKS.map((v) => (
        <line key={"yt" + v} x1={L} x2={L + 5} y1={ys(v)} y2={ys(v)} stroke="#3a3a3a" strokeWidth={1} />
      ))}
      <line x1={xs(200)} x2={xs(200)} y1={T + PH} y2={T + PH - 4} stroke="#3a3a3a" strokeWidth={1} />
      {c === 0 &&
        Y_LABELS.map((v) => (
          <text key={"yl" + v} x={L - 8} y={ys(v) + 12} textAnchor="end" fontSize={34} fontFamily={FONT} fill={TXT}
            textLength={27} lengthAdjust="spacingAndGlyphs">
            {String(v)}
          </text>
        ))}
      {r === 6 &&
        X_LABELS.map((v) => (
          <text key={"xl" + v} x={xs(v) + X_LABEL_SHIFT[v]} y={1537} textAnchor="middle" fontSize={40} fontFamily={FONT} fill={TXT}
            textLength={String(v).length * 16.5} lengthAdjust="spacingAndGlyphs">
            {String(v)}
          </text>
        ))}
      {names.map((n, k) => (
        <text key={"n" + k} x={L + 11} y={T + PH - 11 - (names.length - 1 - k) * 33} fontSize={31} fontFamily={FONT} fill={TXT}>
          {n}
        </text>
      ))}
      <text x={L + PW - 6} y={T + PH - 10} textAnchor="end" fontSize={35} fontFamily={FONT} fill={TXT}
        textLength={num.length * 15.5} lengthAdjust="spacingAndGlyphs">
        {num}
      </text>
      {i === 2 && (
        <g>
          {FAA_TICKS.map((v) => (
            <g key={"faa" + v}>
              <line x1={L + PW} x2={L + PW - 5} y1={faa(v)} y2={faa(v)} stroke="#3a3a3a" strokeWidth={1} />
              <text x={971} y={faa(v) + 10} fontSize={30} fontFamily={FONT} fill={TXT}
                textLength={v === 0 ? 14 : v > 0 ? 43 : 57} lengthAdjust="spacingAndGlyphs">
                {String(v)}
              </text>
            </g>
          ))}
        </g>
      )}
    </g>
  );
}

export default function App() {
  return (
    <svg width={1089} height={1589} viewBox="0 0 1089 1589"
      style={{ position: "absolute", left: 0, top: 0, background: "#ffffff", display: "block" }}>
      <rect x={0} y={0} width={1089} height={1589} fill="#ffffff" />
      {PANEL_NUMBERS.map((_, i) => (
        <Panel key={i} i={i} />
      ))}
      <text x={542} y={1575} textAnchor="middle" fontSize={34} fontFamily={FONT} fill={TXT}
        textLength={420} lengthAdjust="spacingAndGlyphs">
        Distance from trench axis (km)
      </text>
      <text transform="translate(42,755) rotate(-90)" textAnchor="middle" fontSize={33} fontFamily={FONT} fill={TXT}
        textLength={178} lengthAdjust="spacingAndGlyphs">
        Flexure (km)
      </text>
      <text transform="translate(1075,88) rotate(-90)" textAnchor="middle" fontSize={33} fontFamily={FONT} fill={TXT}
        textLength={165} lengthAdjust="spacingAndGlyphs">
        FAA (mGal)
      </text>
    </svg>
  );
}
